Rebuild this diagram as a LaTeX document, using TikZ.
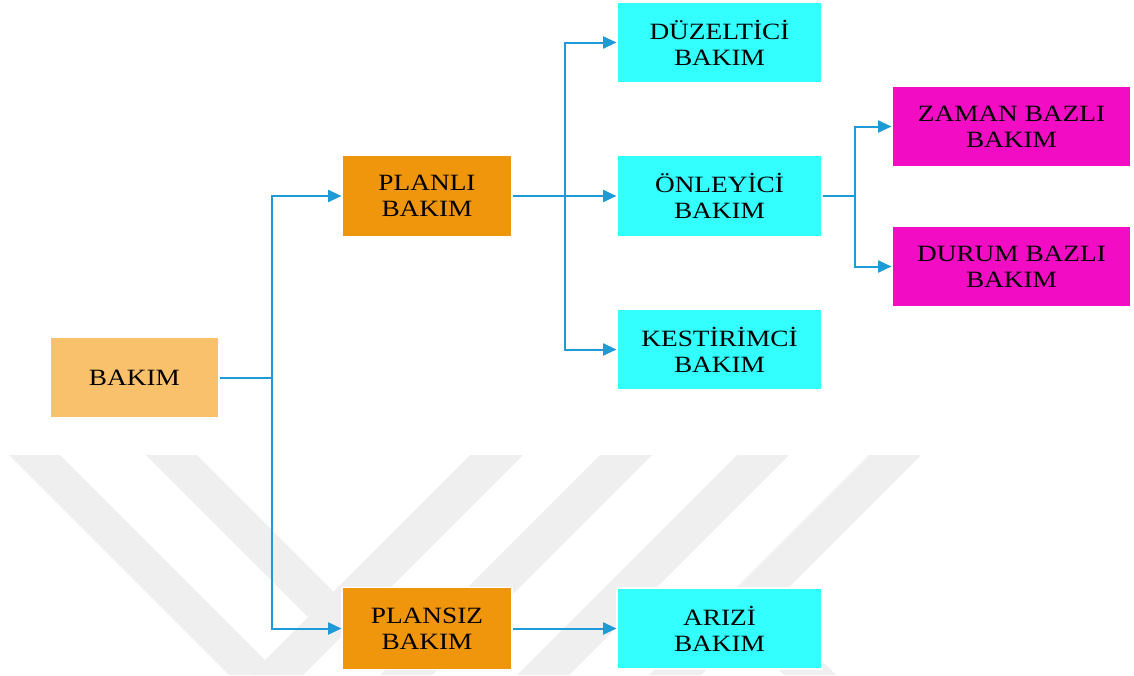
\documentclass[tikz,border=0pt]{standalone}
\usepackage{fontspec}
\setmainfont{Liberation Serif}[FakeStretch=1.17]
\usetikzlibrary{arrows.meta}
\definecolor{lineblue}{RGB}{30,155,215}
\definecolor{lightorange}{RGB}{249,193,107}
\definecolor{darkorange}{RGB}{239,150,12}
\definecolor{aqua}{RGB}{51,255,255}
\definecolor{magentabox}{RGB}{242,12,196}
\definecolor{wmgrey}{RGB}{239,239,239}
\tikzset{
  basebox/.style={draw=white, line width=0.8pt, inner sep=0pt, align=center,
    font=\fontsize{17.5}{19.5}\selectfont, text=black},
  rootbox/.style={basebox, fill=lightorange, minimum width=126.75pt, minimum height=60.75pt},
  midbox/.style={basebox, fill=darkorange, minimum width=127.5pt, minimum height=61.5pt},
  cyanbox/.style={basebox, fill=aqua, minimum width=153.75pt, minimum height=60.75pt},
  magbox/.style={basebox, fill=magentabox, minimum width=179.25pt, minimum height=60.75pt},
  conn/.style={draw=lineblue, line width=1.5pt},
  arr/.style={conn, -{Triangle[length=10pt,width=9pt]}},
  wm/.style={fill=wmgrey, draw=none}
}
\begin{document}
\begin{tikzpicture}[x=0.75pt, y=-0.75pt]
\useasboundingbox (0,0) rectangle (1134,675);
% watermark
\fill[wm] (9,455) -- (60,455) -- (280,675) -- (229,675) -- cycle;
\fill[wm] (146,455) -- (197,455) -- (333.5,591.5) -- (308,617) -- cycle;
\fill[wm] (470,455) -- (523,455) -- (303,675) -- (250,675) -- cycle;
\fill[wm] (600,455) -- (652,455) -- (432,675) -- (380,675) -- cycle;
\fill[wm] (737,455) -- (789,455) -- (569,675) -- (517,675) -- cycle;
\fill[wm] (869,455) -- (921,455) -- (701,675) -- (649,675) -- cycle;
\fill[wm] (768.5,607.5) -- (836,675) -- (784,675) -- (742.5,633.5) -- cycle;
% nodes
\node[rootbox] (bakim) at (134.5,377.5) {BAKIM};
\node[midbox] (planli) at (427,196) {PLANLI\\BAKIM};
\node[midbox] (plansiz) at (427,628.5) {PLANSIZ\\BAKIM};
\node[cyanbox] (duz) at (719.5,42.5) {DÜZELTİCİ\\BAKIM};
\node[cyanbox] (onl) at (719.5,196) {ÖNLEYİCİ\\BAKIM};
\node[cyanbox] (kes) at (719.5,349.5) {KESTİRİMCİ\\BAKIM};
\node[cyanbox] (ariz) at (719.5,628.5) {ARIZİ\\BAKIM};
\node[magbox] (zaman) at (1011.5,126.5) {ZAMAN BAZLI\\BAKIM};
\node[magbox] (durum) at (1011.5,266.5) {DURUM BAZLI\\BAKIM};
% junctions
\coordinate (j1) at (272,377.5);
\coordinate (j2) at (565,196);
\coordinate (j3) at (855,196);
% connectors
\draw[conn] (bakim.east) -- (j1);
\draw[arr] (j1) |- (planli.west);
\draw[arr] (j1) |- (plansiz.west);
\draw[arr] (planli.east) -- (onl.west);
\draw[arr] (j2) |- (duz.west);
\draw[arr] (j2) |- (kes.west);
\draw[conn] (onl.east) -- (j3);
\draw[arr] (j3) |- (zaman.west);
\draw[arr] (j3) |- (durum.west);
\draw[arr] (plansiz.east) -- (ariz.west);
\end{tikzpicture}
\end{document}
